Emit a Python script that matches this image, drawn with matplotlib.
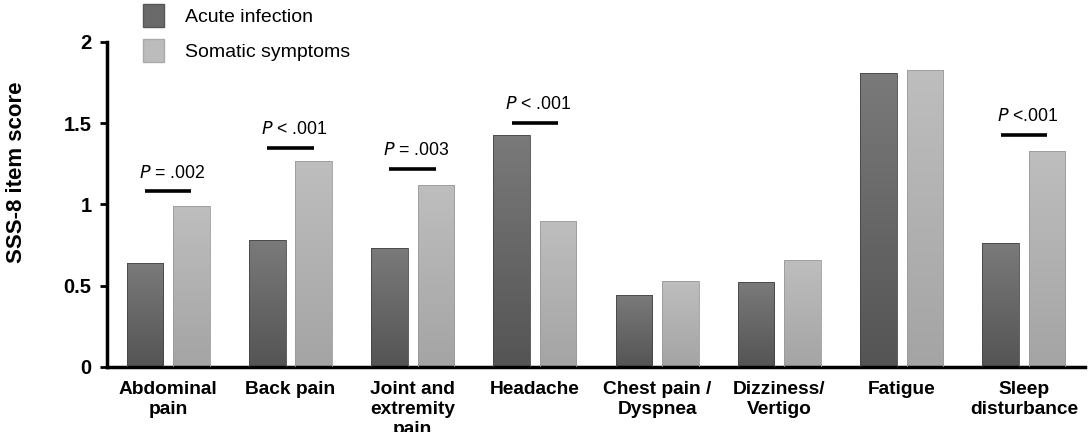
import matplotlib.pyplot as plt
import numpy as np
from matplotlib.colors import LinearSegmentedColormap
from matplotlib.patches import Patch

plt.rcParams['font.family'] = ['Liberation Sans', 'DejaVu Sans']

categories = ['Abdominal\npain', 'Back pain', 'Joint and\nextremity\npain', 'Headache',
              'Chest pain /\nDyspnea', 'Dizziness/\nVertigo', 'Fatigue', 'Sleep\ndisturbance']
acute = [0.64, 0.78, 0.73, 1.43, 0.44, 0.52, 1.81, 0.76]
somatic = [0.99, 1.27, 1.12, 0.90, 0.53, 0.66, 1.83, 1.33]

# significance annotations: group index, label, bar height
sig_idx = [0, 1, 2, 3, 7]
sig_text = ['= .002', '< .001', '= .003', '< .001', '<.001']
sig_y = [1.08, 1.35, 1.22, 1.50, 1.43]

fig = plt.figure(figsize=(10.92, 4.32), dpi=100)
ax = fig.add_axes([0.098, 0.1505, 0.8956, 0.7523])

x = np.arange(len(categories))
w = 0.30
off = 0.19

cmap_dark = LinearSegmentedColormap.from_list('d', ['#545454', '#7a7a7a'])
cmap_light = LinearSegmentedColormap.from_list('l', ['#a4a4a4', '#bebebe'])
grad = np.linspace(0, 1, 256).reshape(-1, 1)

b1 = ax.bar(x - off, acute, w, facecolor='none', edgecolor='#444444', linewidth=0.6, zorder=3)
b2 = ax.bar(x + off, somatic, w, facecolor='none', edgecolor='#9a9a9a', linewidth=0.6, zorder=3)

for bars, cm in ((b1, cmap_dark), (b2, cmap_light)):
    for r in bars:
        x0, y0 = r.get_x(), r.get_y()
        im = ax.imshow(grad, cmap=cm, origin='lower', aspect='auto',
                       extent=[x0, x0 + r.get_width(), y0, y0 + r.get_height()], zorder=2)
        im.set_clip_path(r)

for i, t, y in zip(sig_idx, sig_text, sig_y):
    ax.plot([i - off, i + off], [y, y], color='black', lw=2.6, solid_capstyle='butt', zorder=4)
    ax.text(i + 0.03, y + 0.085, r'$\it{P}$ ' + t, ha='center', va='baseline', fontsize=12.7)

ax.set_xlim(-0.5, 7.5)
ax.set_ylim(0, 2)
ax.set_yticks([0, 0.5, 1, 1.5, 2])
ax.set_yticklabels(['0', '0.5', '1', '1.5', '2'], fontsize=14.5, fontweight='bold')
ax.set_xticks(x)
ax.set_xticklabels(categories, fontsize=13.8, fontweight='bold', linespacing=1.22)
ax.tick_params(axis='x', length=0, pad=10)
ax.tick_params(axis='y', length=5, width=2, direction='out', pad=6)
ax.set_ylabel('SSS-8 item score', fontsize=16, fontweight='bold')
ax.yaxis.set_label_coords(-0.082, 0.6)

for s in ['top', 'right']:
    ax.spines[s].set_visible(False)
for s in ['left', 'bottom']:
    ax.spines[s].set_linewidth(2.5)

handles = [Patch(facecolor='#6a6a6a', edgecolor='#555555', label='Acute infection'),
           Patch(facecolor='#bcbcbc', edgecolor='#aaaaaa', label='Somatic symptoms')]
fig.legend(handles=handles, loc='upper left', bbox_to_anchor=(143 / 1092, 1 - 4 / 432),
           frameon=False, borderpad=0, borderaxespad=0,
           fontsize=14, handlelength=1.1, handleheight=1.45, handletextpad=1.05, labelspacing=0.62)

fig.savefig('out.png', dpi=100)
